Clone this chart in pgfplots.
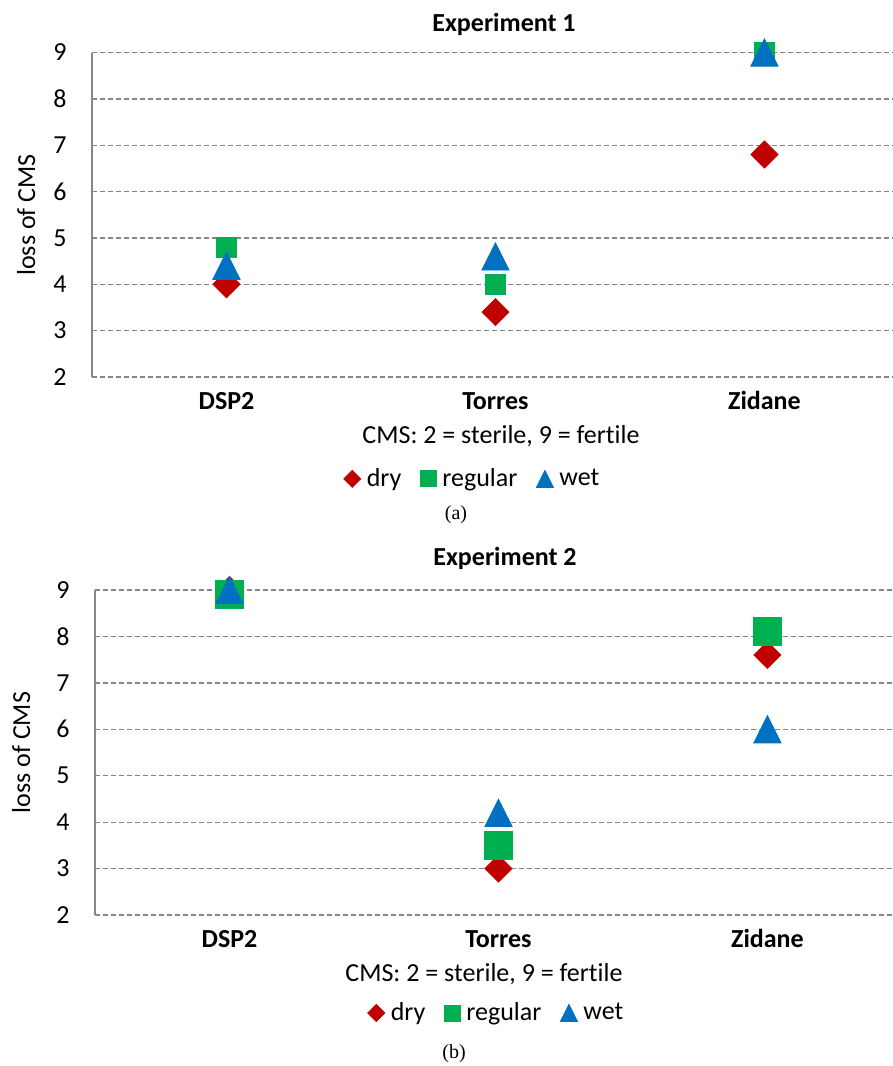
\documentclass[border=0pt]{standalone}
\usepackage{pgfplots}
\pgfplotsset{compat=1.18}
\usepackage{fontspec}
\setmainfont{Carlito}[Ligatures=NoCommon]
\newfontfamily\capfont{Liberation Serif}
\definecolor{cdry}{RGB}{192,0,0}
\definecolor{creg}{RGB}{0,176,80}
\definecolor{cwet}{RGB}{0,112,192}
\definecolor{cgrid}{RGB}{134,134,134}
\pgfdeclareplotmark{xltri}{%
  \pgfpathmoveto{\pgfqpoint{0pt}{\pgfplotmarksize}}%
  \pgfpathlineto{\pgfqpoint{\pgfplotmarksize}{-\pgfplotmarksize}}%
  \pgfpathlineto{\pgfqpoint{-\pgfplotmarksize}{-\pgfplotmarksize}}%
  \pgfpathclose\pgfusepathqfillstroke}
\pgfdeclareplotmark{xldia}{%
  \pgfpathmoveto{\pgfqpoint{0pt}{\pgfplotmarksize}}%
  \pgfpathlineto{\pgfqpoint{\pgfplotmarksize}{0pt}}%
  \pgfpathlineto{\pgfqpoint{0pt}{-\pgfplotmarksize}}%
  \pgfpathlineto{\pgfqpoint{-\pgfplotmarksize}{0pt}}%
  \pgfpathclose\pgfusepathqfillstroke}
\newcommand{\cfont}{\fontsize{13}{15}\selectfont}
\pgfplotsset{
  cmsaxis/.style={
    scale only axis, anchor=south west,
    xmin=-0.5, ymin=2, ymax=9,
    xtick={0,1,2}, xticklabels={DSP2,Torres,Zidane},
    ytick={2,3,4,5,6,7,8,9},
    ymajorgrids,
    grid style={cgrid, line width=0.65pt, dash pattern=on 2.5pt off 1.5pt},
    axis line style={draw=none},
    major tick length=0pt,
    tick label style={font=\cfont},
    xticklabel style={font=\cfont\bfseries, anchor=base, inner sep=0pt, yshift=-16pt},
    yticklabel style={anchor=east, inner sep=0pt, xshift=-12.5pt},
    /pgf/number format/assume math mode=true,
    clip=false,
    legend columns=3,
    legend style={draw=none, fill=none, font=\cfont, anchor=center,
      /tikz/every odd column/.append style={column sep=1.5pt},
      /tikz/every even column/.append style={column sep=8pt},
      nodes={inner sep=1.5pt}},
    legend image code/.code={\draw[##1] plot coordinates {(0pt,0pt)};},
  },
  drystyle/.style={only marks, color=cdry, mark=xldia, mark size=6.75pt,
    legend image post style={mark size=4.25pt}},
  regstyle/.style={only marks, color=creg, mark=square*, mark size=#1,
    legend image post style={mark size=4pt}},
  wetstyle/.style={only marks, color=cwet, mark=xltri, mark size=6.8pt,
    legend image post style={mark size=4.25pt}},
}
\begin{document}
\begin{tikzpicture}
\useasboundingbox (0pt,0pt) rectangle (446.5pt,-533pt);
% ---------- Experiment 1 ----------
\begin{axis}[cmsaxis, at={(46pt,-188.5pt)}, width=400.5pt, height=162.25pt, xmax=2.478,
  legend style={at={(0.4757,-0.314)}}]
\addplot[drystyle] coordinates {(0,4.0) (1,3.4) (2,6.8)};
\addplot[regstyle=5pt] coordinates {(0,4.8) (1,4.0) (2,9.0)};
\addplot[wetstyle] coordinates {(0,4.4) (1,4.6) (2,9.0)};
\legend{dry,regular,wet}
\draw[cgrid, line width=0.8pt] (rel axis cs:0,0) -- (rel axis cs:0,1);
\end{axis}
\node[anchor=base, font=\cfont\bfseries] at (252pt,-15.5pt) {Experiment 1};
\node[anchor=base, rotate=90, font=\cfont] at (17.5pt,-107.5pt) {loss of CMS};
\node[anchor=base, font=\cfont] at (250.5pt,-221.5pt) {CMS: 2 = sterile, 9 = fertile};
\node[anchor=base, font=\capfont\fontsize{10}{12}\selectfont] at (228pt,-259.75pt) {(a)};
% ---------- Experiment 2 ----------
\begin{axis}[cmsaxis, at={(47.5pt,-457.5pt)}, width=399pt, height=162.5pt, xmax=2.467,
  legend style={at={(0.5038,-0.3015)}}]
\addplot[drystyle] coordinates {(0,9.0) (1,3.0) (2,7.6)};
\addplot[regstyle=7pt] coordinates {(0,8.9) (1,3.5) (2,8.1)};
\addplot[wetstyle] coordinates {(0,9.0) (1,4.2) (2,6.0)};
\legend{dry,regular,wet}
\draw[cgrid, line width=0.8pt] (rel axis cs:0,0) -- (rel axis cs:0,1);
\end{axis}
\node[anchor=base, font=\cfont\bfseries] at (252.5pt,-282.5pt) {Experiment 2};
\node[anchor=base, rotate=90, font=\cfont] at (15pt,-376.25pt) {loss of CMS};
\node[anchor=base, font=\cfont] at (242pt,-490.8pt) {CMS: 2 = sterile, 9 = fertile};
\node[anchor=base, font=\capfont\fontsize{10}{12}\selectfont] at (227pt,-529pt) {(b)};
\end{tikzpicture}
\end{document}
